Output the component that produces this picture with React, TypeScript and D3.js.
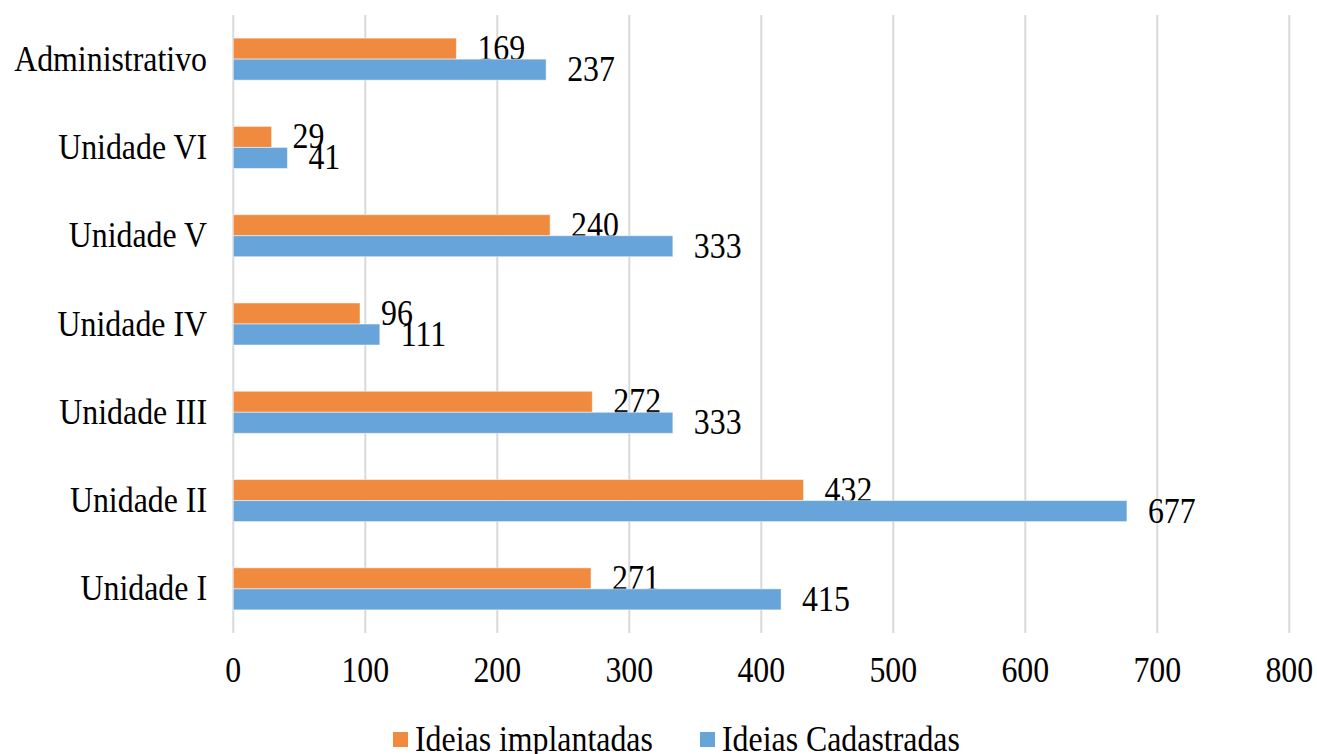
import React from "react";
import * as d3 from "d3";

const categories = [
  "Administrativo",
  "Unidade VI",
  "Unidade V",
  "Unidade IV",
  "Unidade III",
  "Unidade II",
  "Unidade I",
];
const implantadas = [169, 29, 240, 96, 272, 432, 271];
const cadastradas = [237, 41, 333, 111, 333, 677, 415];
const seriesNames = ["Ideias implantadas", "Ideias Cadastradas"];
const seriesColors = ["#F08A3E", "#67A4DA"];
const xTicks = [0, 100, 200, 300, 400, 500, 600, 700, 800];

const W = 1317;
const H = 754;
const FONT = "'Liberation Serif', 'Times New Roman', serif";
const FS = 35;
const SX = 0.91;

function Label({ x, y, anchor, children }: { x: number; y: number; anchor: string; children: React.ReactNode }) {
  return (
    <text
      transform={`translate(${x},${y}) scale(${SX},1)`}
      textAnchor={anchor}
      fontFamily={FONT}
      fontSize={FS}
      fill="#000"
    >
      {children}
    </text>
  );
}

export default function App() {
  const x = d3.scaleLinear().domain([0, 800]).range([233.3, 1289.3]);
  const y0 = d3.scaleBand<string>().domain(categories).range([15, 633]).padding(0);
  const y1 = d3
    .scaleBand<string>()
    .domain(seriesNames)
    .range([0, y0.bandwidth()])
    .paddingInner(0)
    .paddingOuter(1.1);

  const seriesValues = [implantadas, cadastradas];
  const capHalf = 11.5;

  // legend entries: swatch left edge and label start
  const legend = [
    { sx: 393, tx: 415 },
    { sx: 700, tx: 722 },
  ];

  return (
    <svg
      width={W}
      height={H}
      style={{ position: "absolute", left: 0, top: 0, display: "block", background: "#fff" }}
    >
      <rect width={W} height={H} fill="#fff" />
      {xTicks.map((t) => (
        <line key={t} x1={x(t)} x2={x(t)} y1={15} y2={633} stroke="#D9D9D9" strokeWidth={2} />
      ))}
      {categories.map((c, i) => (
        <g key={c}>
          {seriesNames.map((s, k) => {
            const v = seriesValues[k][i];
            const by = (y0(c) as number) + (y1(s) as number);
            const bh = y1.bandwidth();
            return (
              <g key={s}>
                <rect
                  x={x(0)}
                  y={by}
                  width={x(v) - x(0)}
                  height={bh}
                  fill={seriesColors[k]}
                  stroke="#fff"
                  strokeOpacity={0.5}
                  strokeWidth={1}
                />
                <Label x={x(v) + 21} y={by + bh / 2 + capHalf} anchor="start">
                  {v}
                </Label>
              </g>
            );
          })}
          <Label x={207} y={(y0(c) as number) + y0.bandwidth() / 2 + capHalf} anchor="end">
            {c}
          </Label>
        </g>
      ))}
      {xTicks.map((t) => (
        <Label key={t} x={x(t)} y={682} anchor="middle">
          {t}
        </Label>
      ))}
      {seriesNames.map((s, k) => (
        <g key={s}>
          <rect x={legend[k].sx} y={732} width={15} height={15} fill={seriesColors[k]} />
          <Label x={legend[k].tx} y={751} anchor="start">
            {s}
          </Label>
        </g>
      ))}
    </svg>
  );
}
